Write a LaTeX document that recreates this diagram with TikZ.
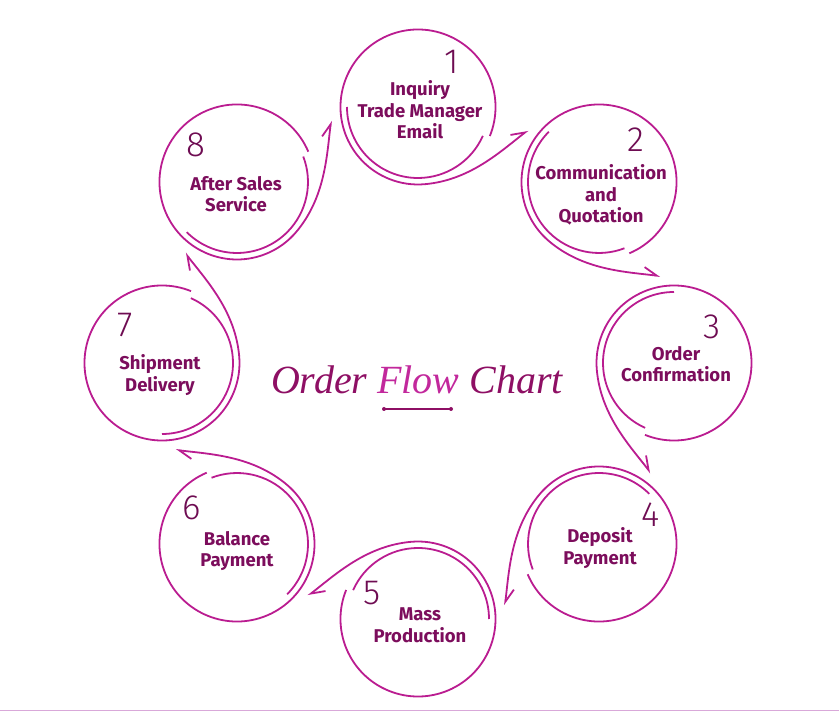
\documentclass[tikz,border=0pt]{standalone}
\usepackage{fontspec}
\setmainfont{Liberation Serif}
\setsansfont{Fira Sans}
\newfontfamily\numfont{Fira Sans Light}
\usetikzlibrary{arrows.meta,positioning,calc}
\definecolor{ring}{HTML}{BA1C90}
\definecolor{ink}{HTML}{7C0D5C}
\definecolor{digit}{HTML}{6E0C52}
\definecolor{titledark}{HTML}{8E0F64}
\definecolor{titlepink}{HTML}{C2289C}
\definecolor{floor}{HTML}{D9A8D9}
\tikzset{
  ringline/.style={draw=ring, line width=1.8pt},
  flow/.style={ringline, -{Straight Barb[left, length=13pt, width=14pt]}},
  stage/.style={align=center, text=ink, inner sep=0pt,
                font=\sffamily\bfseries\fontsize{18.5}{21.5}\selectfont},
  stagenum/.style={text=digit, inner sep=0pt, font=\numfont\fontsize{35}{35}\selectfont},
  title/.style={font=\itshape\fontsize{40}{40}\selectfont, inner sep=0pt}
}
\begin{document}
\begin{tikzpicture}[x=1pt, y=1pt]
  \useasboundingbox (0,0) rectangle (839,713);
  \coordinate (o) at (418,350);
  % circle centres and the points where the arrows arrive
  \foreach \i/\txt/\tdx/\tdy/\ndx/\ndy in {
      1/{Inquiry\\Trade Manager\\Email}/2/-3/34/45,
      2/{Communication\\and\\Quotation}/2/-13/37/42,
      3/{Order\\Confirmation}/2/-1/38/36,
      4/{Deposit\\Payment}/1/-4/52/29,
      5/{Mass\\Production}/2/-6/-46/26,
      6/{Balance\\Payment}/0/-7/-45/36,
      7/{Shipment\\Delivery}/-2/-12/-37/38,
      8/{After Sales\\Service}/-1/-12/-41/37} {
    \pgfmathsetmacro\a{90-45*(\i-1)}
    \pgfmathsetmacro\b{\a+99}
    \path (o) ++(\a:256) coordinate (c\i);
    \path (c\i) ++(\b:88) coordinate (in\i);
    \node[stage] (t\i) at ($(c\i)+(\tdx,\tdy)$) {\txt};
    \node[stagenum] (n\i) at ($(c\i)+(\ndx,\ndy)$) {\i};
  }
  % rings with their tails
  \foreach \i in {1,...,8} {
    \pgfmathtruncatemacro\j{mod(\i,8)+1}
    \pgfmathsetmacro\a{90-45*(\i-1)}
    \pgfmathsetmacro\sa{\a-112}
    \pgfmathsetmacro\ea{\a+185}
    \pgfmathsetmacro\oa{\a+275}
    \pgfmathsetmacro\ia{\a+128}
    \pgfmathsetmacro\ka{\a+90}
    \pgfmathsetmacro\kb{\a+246}
    \draw[flow] ($(c\i)+(\sa:77.5)$) arc[start angle=\sa, end angle=\ea, radius=77.5]
      .. controls +(\oa:45) and +(\ia:35) .. (in\j);
    \draw[ringline] ($(c\i)+(\ka:71)$) arc[start angle=\ka, end angle=\kb, radius=71];
  }
  \node[title, anchor=base] (ttl) at (417,319)
    {\textcolor{titledark}{Order} \textcolor{titlepink}{Flow} \textcolor{titledark}{Chart}};
  \coordinate (ul) at (384,304);
  \coordinate (ur) at (451,304);
  \draw[titledark, line width=1.2pt] (ul) -- (ur);
  \fill[titledark] (ul) circle (2) (ur) circle (2);
  \draw[floor, line width=1pt] (0,2) -- (839,2);
\end{tikzpicture}
\end{document}
